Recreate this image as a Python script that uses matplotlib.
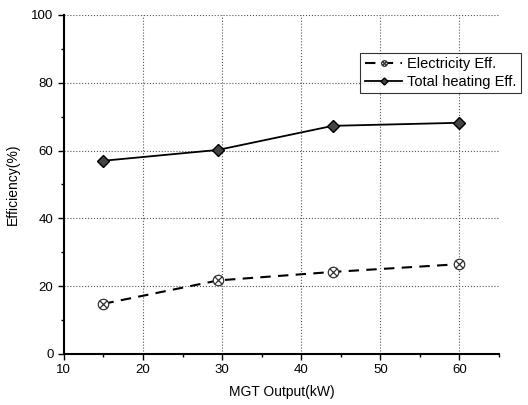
import numpy as np
import matplotlib
matplotlib.use("Agg")
from matplotlib import pyplot as plt
from matplotlib.path import Path
from matplotlib.ticker import MultipleLocator

plt.rcParams['font.family'] = ['Liberation Sans', 'DejaVu Sans']

# data
mgt_output = [15, 29.5, 44, 60]
elec_eff = [14.8, 21.7, 24.2, 26.5]
heat_eff = [57.0, 60.2, 67.3, 68.2]

x_ticks = [10, 20, 30, 40, 50, 60]
y_ticks = [0, 20, 40, 60, 80, 100]

# circle with a cross inside
circ = Path.unit_circle()
d = 0.7
cross = Path([(-d, -d), (d, d), (-d, d), (d, -d)],
             [Path.MOVETO, Path.LINETO, Path.MOVETO, Path.LINETO])
circ_x = Path.make_compound_path(circ, cross)

fig = plt.figure(figsize=(5.28, 4.05), dpi=100)
ax = fig.add_axes([0.121, 0.126, 0.824, 0.837])

ax.plot(mgt_output, elec_eff, color='black', lw=1.5, ls=(0, (5, 3.5)),
        marker=circ_x, ms=7.5, mfc='white', mec='#333333', mew=0.9,
        label='Electricity Eff.')
ax.plot(mgt_output, heat_eff, color='black', lw=1.3,
        marker='D', ms=6.5, mfc='#444444', mec='black', mew=1.0,
        label='Total heating Eff.')

ax.set_xlim(10, 65)
ax.set_ylim(0, 100)
ax.set_xticks(x_ticks)
ax.set_yticks(y_ticks)
ax.xaxis.set_minor_locator(MultipleLocator(5))
ax.yaxis.set_minor_locator(MultipleLocator(10))
ax.tick_params(which='major', direction='out', length=4, width=1.0, labelsize=9.5)
ax.tick_params(which='minor', direction='out', length=2.5, width=1.0)
ax.grid(True, which='major', color='#555555', ls=':', lw=0.8)

for s in ['top', 'right']:
    ax.spines[s].set_visible(False)
for s in ['left', 'bottom']:
    ax.spines[s].set_linewidth(1.5)

ax.set_xlabel('MGT Output(kW)', fontsize=10, labelpad=6)
ax.set_ylabel('Efficiency(%)', fontsize=10, labelpad=8)

leg = ax.legend(loc='upper right', bbox_to_anchor=(0.986, 0.87),
                bbox_transform=fig.transFigure, fontsize=10.5, frameon=True,
                fancybox=False, edgecolor='black', handlelength=2.6,
                borderpad=0.3, labelspacing=0.25, handletextpad=0.3,
                borderaxespad=0, markerscale=0.55)
leg.get_frame().set_linewidth(0.8)

fig.savefig('out.png', dpi=100)
